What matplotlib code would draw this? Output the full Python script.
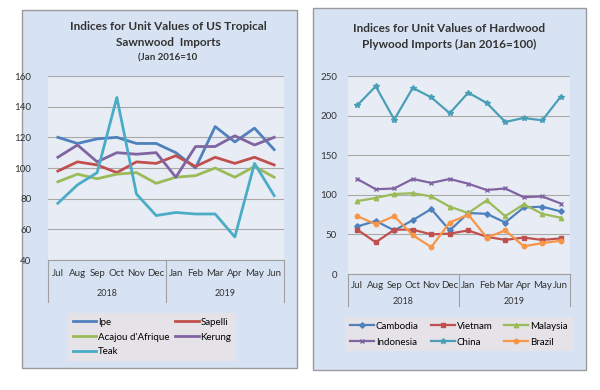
import matplotlib
matplotlib.use("Agg")
import matplotlib.pyplot as plt
import matplotlib.transforms as mtrans
from matplotlib.patches import Rectangle

plt.rcParams['font.family'] = ['Lato', 'DejaVu Sans']

months = ['Jul', 'Aug', 'Sep', 'Oct', 'Nov', 'Dec', 'Jan', 'Feb', 'Mar', 'Apr', 'May', 'Jun']
years = ['2018', '2019']

# sawnwood indices
ipe = [120, 116, 119, 120, 116, 116, 110, 100, 127, 117, 126, 112]
sapelli = [98, 104, 102, 97, 104, 103, 108, 101, 107, 103, 107, 102]
acajou = [91, 96, 93, 96, 97, 90, 94, 95, 100, 94, 101, 94]
kerung = [107, 115, 104, 110, 109, 110, 94, 114, 114, 121, 115, 120]
teak = [77, 89, 97, 146, 83, 69, 71, 70, 70, 55, 103, 82]

# plywood indices
cambodia = [60, 67, 55, 68, 82, 55, 77, 76, 65, 84, 85, 79]
vietnam = [56, 40, 56, 56, 50, 51, 55, 47, 43, 46, 43, 45]
malaysia = [92, 96, 101, 102, 98, 85, 77, 93, 73, 88, 76, 71]
indonesia = [120, 107, 108, 120, 115, 120, 114, 106, 108, 97, 98, 89]
china = [213, 237, 195, 235, 223, 203, 229, 216, 192, 197, 194, 224]
brazil = [73, 63, 73, 49, 34, 65, 75, 46, 55, 35, 39, 42]

W, H = 600, 390
fig = plt.figure(figsize=(6, 3.9), dpi=100)
fig.patch.set_facecolor('white')


def fx(px):
    return px / W


def fy(py):
    return 1 - py / H


panel_bg = '#d7e3f3'
plot_bg = '#e8edf5'
grid_c = '#a9a9a9'

# panel frames
for x0, y0, x1, y1 in [(22, 10, 297, 368), (313, 8, 586, 370)]:
    fig.patches.append(Rectangle((fx(x0), fy(y1)), fx(x1 - x0), (y1 - y0) / H,
                                 transform=fig.transFigure, facecolor=panel_bg,
                                 edgecolor='#9a9a9a', linewidth=1.0, zorder=-5))


def setup(ax, ylim, yticks, month_y, year_y, box_bottom, pad):
    ax.set_facecolor(plot_bg)
    ax.set_xlim(-0.5, 11.5)
    ax.set_ylim(*ylim)
    ax.set_yticks(yticks)
    ax.tick_params(axis='y', length=0, labelsize=7, colors='#333333', pad=pad)
    ax.set_xticks([])
    for s in ax.spines.values():
        s.set_visible(False)
    ax.grid(axis='y', color=grid_c, linewidth=0.8)
    ax.set_axisbelow(True)
    tr = mtrans.blended_transform_factory(ax.transData, fig.transFigure)
    for i, m in enumerate(months):
        ax.text(i, fy(month_y), m, transform=tr, ha='center', va='center',
                fontsize=7, color='#333333')
    ax.text(2.5, fy(year_y), years[0], transform=tr, ha='center', va='center',
            fontsize=6.5, color='#333333')
    ax.text(8.5, fy(year_y), years[1], transform=tr, ha='center', va='center',
            fontsize=6.5, color='#333333')
    bot = ax.get_position().y0
    for xv in [-0.5, 5.5, 11.5]:
        ax.plot([xv, xv], [bot, fy(box_bottom)], transform=tr, color='#a0a0a0',
                linewidth=0.8, clip_on=False)
    ax.plot([-0.5, 11.5], [bot, bot], transform=tr, color='#a0a0a0',
            linewidth=0.8, clip_on=False)


x = range(len(months))

# ---------------- left chart ----------------
ax1 = fig.add_axes([fx(48), fy(260), fx(284 - 48), (260 - 76) / H])
setup(ax1, (40, 160), range(40, 161, 20), 274, 293, 302, 12)
lw = 2.0
l_ipe, = ax1.plot(x, ipe, color='#4f81bd', lw=lw, label='Ipe')
l_sap, = ax1.plot(x, sapelli, color='#c0504d', lw=lw, label='Sapelli')
l_aca, = ax1.plot(x, acajou, color='#9bbb59', lw=lw, label="Acajou d'Afrique")
l_ker, = ax1.plot(x, kerung, color='#8064a2', lw=lw, label='Kerung')
l_tea, = ax1.plot(x, teak, color='#4bacc6', lw=lw, label='Teak')

fig.text(fx(168), fy(27), 'Indices for Unit Values of US Tropical', ha='center',
         va='center', fontsize=8.5, fontweight='bold', color='#333333')
fig.text(fx(168), fy(43), 'Sawnwood  Imports', ha='center', va='center',
         fontsize=8.5, fontweight='bold', color='#333333')
fig.text(fx(168), fy(58), '(Jan 2016=10', ha='center', va='center',
         fontsize=7, fontweight='bold', color='#333333')

leg1 = fig.legend(handles=[l_ipe, l_aca, l_tea, l_sap, l_ker], ncol=2,
                  loc='upper left', bbox_to_anchor=(fx(63), fy(308)),
                  fontsize=7, frameon=True, fancybox=False, handlelength=2.4,
                  handletextpad=0.2, columnspacing=0.6, labelspacing=0.6,
                  borderpad=0.5)
leg1.get_frame().set_facecolor('#e5e2e8')
leg1.get_frame().set_edgecolor('none')
leg1.get_frame().set_alpha(1)

# ---------------- right chart ----------------
ax2 = fig.add_axes([fx(348), fy(274), fx(570 - 348), (274 - 76) / H])
setup(ax2, (0, 250), range(0, 251, 50), 285, 301, 306, 8)
lw2 = 1.6
ms = 3.2
r_cam, = ax2.plot(x, cambodia, color='#4f81bd', lw=lw2, marker='D', ms=2.8, label='Cambodia')
r_vie, = ax2.plot(x, vietnam, color='#c0504d', lw=lw2, marker='s', ms=ms, label='Vietnam')
r_mal, = ax2.plot(x, malaysia, color='#9bbb59', lw=lw2, marker='^', ms=ms, label='Malaysia')
r_ind, = ax2.plot(x, indonesia, color='#8064a2', lw=lw2, marker='x', ms=ms, label='Indonesia')
r_chi, = ax2.plot(x, china, color='#4a9fb8', lw=lw2, marker='*', ms=4.2, label='China')
r_bra, = ax2.plot(x, brazil, color='#f79646', lw=lw2, marker='o', ms=ms, label='Brazil')

fig.text(fx(449), fy(28), 'Indices for Unit Values of Hardwood', ha='center',
         va='center', fontsize=8.5, fontweight='bold', color='#333333')
fig.text(fx(449), fy(44), 'Plywood Imports (Jan 2016=100)', ha='center',
         va='center', fontsize=8.5, fontweight='bold', color='#333333')

leg2 = fig.legend(handles=[r_cam, r_ind, r_vie, r_chi, r_mal, r_bra], ncol=3,
                  loc='upper left', bbox_to_anchor=(fx(340), fy(312)),
                  fontsize=7, frameon=True, fancybox=False, handlelength=2.5,
                  handletextpad=0.2, columnspacing=1.2, labelspacing=0.7,
                  borderpad=0.5)
leg2.get_frame().set_facecolor('#e5e2e8')
leg2.get_frame().set_edgecolor('none')
leg2.get_frame().set_alpha(1)

fig.savefig('out.png', dpi=100)
